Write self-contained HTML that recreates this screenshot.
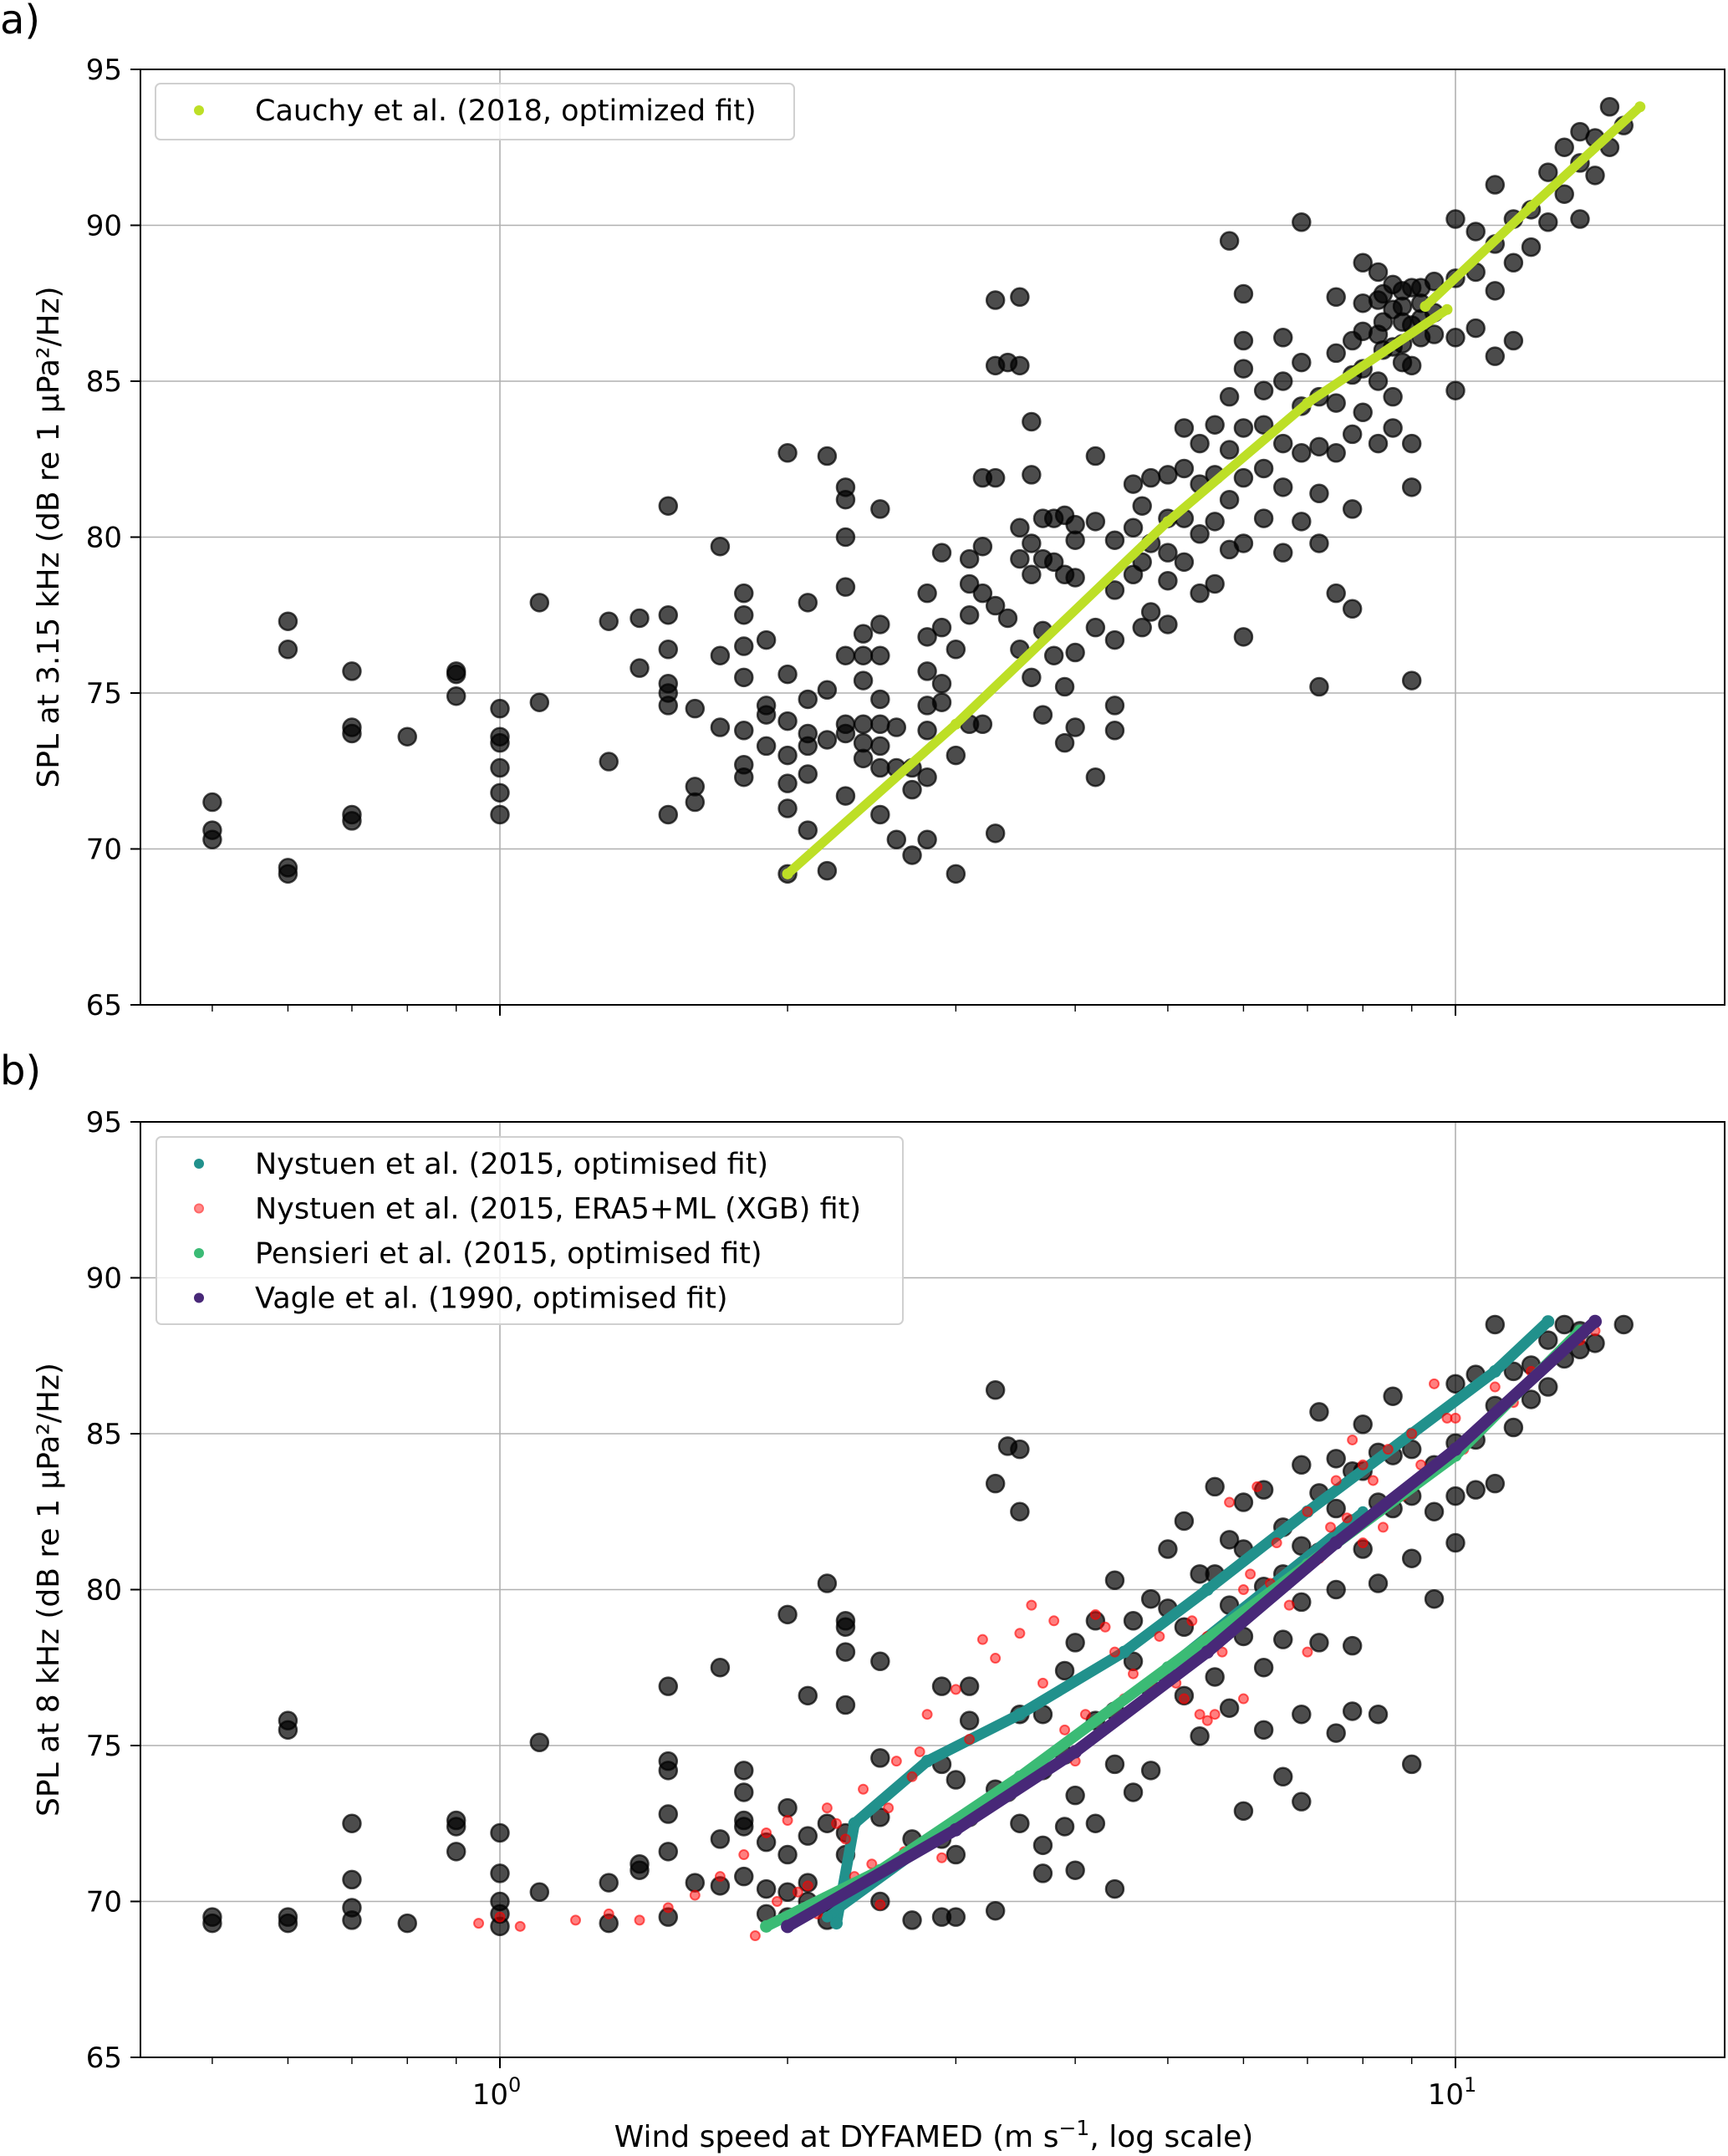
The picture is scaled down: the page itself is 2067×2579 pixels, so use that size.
<!DOCTYPE html>
<html><head><meta charset="utf-8">
<style>
html,body{margin:0;padding:0;background:#fff;}
svg{display:block;font-family:"DejaVu Sans","Liberation Sans",sans-serif;}
</style></head>
<body>
<svg id="fig" width="2067" height="2579" viewBox="0 0 2067 2579" xmlns="http://www.w3.org/2000/svg">
<rect x="0" y="0" width="2067" height="2579" fill="#fff"/>
<text x="0" y="40" font-size="48">a)</text>
<text x="0" y="1297" font-size="48">b)</text>
<g id="pa"></g>
<g id="pb"></g>
<text x="1117" y="2568" font-size="36" text-anchor="middle">Wind speed at DYFAMED (m s<tspan dy="-14" font-size="25">−1</tspan><tspan dy="14">, log scale)</tspan></text>
</svg>
<script>
// ---------- Panel a data ----------
const aWind=[0.5,0.6,0.7,0.8,0.9,1.0,1.1,1.3,1.4,1.5,1.6,1.7,1.8,1.9,2.0,2.1,2.2,2.3,2.4,2.5,2.6,2.7,2.8,2.9,3.0,3.1,3.2,3.3,3.4,3.5,3.6,3.7,3.8,3.9,4.0,4.2,4.4,4.6,4.7,4.8,5.0,5.2,5.4,5.6,5.8,6.0,6.3,6.6,6.9,7.2,7.5,7.8,8.0,8.3,8.4,8.6,8.8,9.0,9.2,9.5,10.0,10.5,11.0,11.5,12.0,12.5,13.0,13.5,14.0,14.5,15.0];
const aSpl=[[71.5,70.6,70.3],[77.3,76.4,69.4,69.2],[75.7,73.9,73.7,71.1,70.9],[73.6],[75.7,75.6,74.9],[74.5,73.6,73.4,72.6,71.8,71.1],[74.7,77.9],[77.3,72.8],[77.4,75.8],[81.0,77.5,76.4,75.3,75.0,74.6,71.1],[72.0,71.5,74.5],[79.7,76.2,73.9],[78.2,77.5,76.5,75.5,73.8,72.7,72.3],[76.7,74.6,74.3,73.3],[82.7,75.6,74.1,73.0,72.1,71.3,69.2],[77.9,74.8,73.7,73.3,72.4,70.6],[82.6,75.1,73.5,69.3],[81.6,81.2,80.0,78.4,76.2,74.0,73.7,71.7],[76.9,76.2,75.4,74.0,73.4,72.9],[80.9,77.2,76.2,74.8,74.0,73.3,72.6,71.1],[73.9,72.6,70.3],[72.6,71.9,69.8],[78.2,76.8,75.7,74.6,73.8,72.3,70.3],[79.5,77.1,75.3,74.7],[76.4,73.0,69.2],[79.3,78.5,77.5,74.0],[81.9,79.7,78.2,74.0],[87.6,85.5,81.9,77.8,70.5],[85.6,77.4],[87.7,85.5,80.3,79.3,76.4],[83.7,82.0,79.8,78.8,75.5],[80.6,79.3,77.0,74.3],[80.6,79.2,76.2],[80.7,78.8,75.2,73.4],[80.4,79.9,78.7,76.3,73.9],[82.6,80.5,77.1,72.3],[79.9,78.3,76.7,74.6,73.8],[81.7,80.3,78.8],[81.0,79.2,77.1],[81.9,79.8,77.6],[82.0,80.6,79.5,78.6,77.2],[83.5,82.2,80.6,79.2],[83.0,81.7,80.1,78.2],[83.6,82.0,80.5,78.5],[89.5,84.5,82.8,81.2,79.6],[87.8,86.3,85.4,83.5,81.9,79.8,76.8],[84.7,83.6,82.2,80.6],[86.4,85.0,83.0,81.6,79.5],[90.1,85.6,84.2,82.7,80.5],[84.5,82.9,81.4,79.8,75.2],[87.7,85.9,84.3,82.7,78.2],[86.3,85.2,83.3,80.9,77.7],[88.8,87.5,86.6,85.4,84.0],[88.5,87.6,86.5,85.0,83.0],[87.8,86.9,86.0],[88.1,87.3,86.1,84.5,83.5],[87.9,87.4,86.9,86.2,85.6],[88.0,86.8,85.5,83.0,81.6,75.4],[88.0,87.5,87.0,86.4],[88.2,87.2,86.5],[90.2,88.3,86.4,84.7],[89.8,88.5,86.7],[91.3,89.4,87.9,85.8],[90.2,88.8,86.3],[90.5,89.3],[91.7,90.1],[92.5,91.0],[93.0,92.0,90.2],[92.8,91.6],[93.8,92.5],[93.2]];
const cauchyLowWind=[2.0,3.0,5.0,7.0,9.8];
const cauchyLowSpl=[69.2,74.0,80.5,84.3,87.3];
const cauchyHighWind=[9.3,12.0,15.6];
const cauchyHighSpl=[87.4,90.6,93.8];

// ---------- Panel b data ----------
const bWind=[0.5,0.6,0.7,0.8,0.9,1.0,1.1,1.3,1.4,1.5,1.6,1.7,1.8,1.9,2.0,2.1,2.2,2.3,2.5,2.7,2.9,3.0,3.1,3.3,3.4,3.5,3.7,3.9,4.0,4.2,4.4,4.6,4.8,5.0,5.2,5.4,5.6,5.8,6.0,6.3,6.6,6.9,7.2,7.5,7.8,8.0,8.3,8.6,9.0,9.5,10.0,10.5,11.0,11.5,12.0,12.5,13.0,13.5,14.0,15.0];
const bSpl=[[69.5,69.3],[75.8,75.5,69.5,69.3],[72.5,70.7,69.8,69.4],[69.3],[72.6,72.4,71.6],[72.2,70.9,70.0,69.6,69.2],[75.1,70.3],[70.6,69.3],[71.2,71.0],[76.9,74.5,74.2,72.8,71.6,69.5],[70.6],[77.5,72.0,70.5],[74.2,73.5,72.6,72.4,70.8],[71.9,70.4,69.6],[79.2,73.0,71.5,70.3,69.5],[76.6,72.1,70.6,70.0],[80.2,72.5,70.0,69.4],[79.0,78.8,78.0,76.3,72.2,71.5],[77.7,74.6,72.7,70.0],[72.0,69.4],[76.9,74.4,72.0,69.5],[73.9,71.5,69.5],[76.9,75.8,72.7],[86.4,83.4,73.6,69.7],[84.6,73.5],[84.5,82.5,76.0,72.5],[76.0,74.2,71.8,70.9],[77.4,74.7,72.4],[78.3,73.4,71.0],[79.0,75.8,72.5],[80.3,76.1,74.4,70.4],[79.0,77.7,73.5],[79.7,76.8,74.2],[81.3,79.4,77.2],[82.2,78.8,76.6],[80.5,78.0,75.3],[83.3,80.5,77.2],[81.6,79.5,76.2],[82.8,81.3,78.5,72.9],[83.2,80.1,77.5,75.5],[82.0,80.5,78.4,74.0],[84.0,81.4,79.6,76.0,73.2],[85.7,83.1,81.2,78.3],[84.2,82.6,80.0,75.4],[83.8,82.1,78.2,76.1],[85.3,83.8,81.3],[84.4,82.8,80.2,76.0],[86.2,84.3,82.6],[84.5,83.0,81.0,74.4],[84.0,82.5,79.7],[86.6,84.7,83.0,81.5],[86.9,84.8,83.2],[88.5,85.9,83.4],[87.0,85.2],[87.2,86.1],[88.0,86.5],[88.5,87.4],[88.3,87.7],[87.9],[88.5]];
const redWind=[0.95,1.0,1.05,1.2,1.3,1.4,1.5,1.6,1.7,1.8,1.85,1.9,2.0,2.1,2.2,2.4,2.5,2.6,2.8,2.9,3.0,3.2,3.3,3.4,3.5,3.8,4.0,4.2,4.5,5.0,5.2,5.5,5.5,5.8,6.0,6.2,6.5,7.0,7.5,7.8,8.0,8.5,9.0,9.5,10.0,11.0,12.0,13.0,14.0,2.3,2.7,3.6,4.4,4.8,6.8,8.8,10.5,1.95,2.05,2.15,2.25,2.35,2.45,2.55,2.65,2.75,3.1,3.7,3.9,4.1,4.3,4.6,4.9,5.1,5.3,5.6,5.7,6.1,6.4,6.7,7.2,7.4,7.7,8.2,8.4,9.2,9.8,10.2,11.5,12.5,13.5,6.0,5.4,7.0,8.0];
const redSpl=[69.3,69.5,69.2,69.4,69.6,69.4,69.8,70.2,70.8,71.5,68.9,72.2,72.6,70.5,73.0,73.6,69.9,74.5,76.0,71.4,76.8,78.4,77.8,73.5,78.6,79.0,74.5,79.2,76.5,77.5,76.5,78.5,75.8,82.8,80.0,83.3,81.5,82.5,83.5,84.8,84.0,84.5,85.0,86.6,85.5,86.5,87.0,87.7,88.3,72.0,74.0,79.5,78.0,77.0,80.5,83.0,85.0,70.0,70.3,69.6,72.5,70.8,71.2,73.0,71.6,74.8,75.2,77.0,75.5,76.0,78.8,77.3,78.5,77.0,79.0,76.0,78.0,80.5,80.2,79.5,81.0,82.0,82.3,83.5,82.0,84.0,85.5,84.5,86.0,87.2,88.0,76.5,76.0,78.0,81.5];
const nysUpWind=[2.25,2.35,2.8,3.5,4.5,5.5,7.0,9.0,11.0,12.5];
const nysUpSpl=[69.3,72.5,74.5,76.0,78.0,80.0,82.5,85.0,87.0,88.6];
const nysLowWind=[2.2,3.0,5.0,8.0];
const nysLowSpl=[69.5,72.5,77.5,82.5];
const penWind=[1.9,2.5,3.5,5.0,7.0,10.0,13.5];
const penSpl=[69.2,71.0,74.0,77.5,80.8,84.3,88.3];
const vagWind=[2.0,3.0,4.0,5.5,7.5,10.0,14.0];
const vagSpl=[69.2,72.3,74.8,78.0,81.5,84.5,88.6];
const yTicks=[65,70,75,80,85,90,95];
const xMinor=[0.5,0.6,0.7,0.8,0.9,2,3,4,5,6,7,8,9];
const xMajor=[1,10];

const NS='http://www.w3.org/2000/svg';
const L=168,R=2063,H=1119;
const X=v=>598+1143*Math.log10(v);
function mk(parent,tag,attrs){const e=document.createElementNS(NS,tag);for(const k in attrs)e.setAttribute(k,attrs[k]);parent.appendChild(e);return e;}

function panel(g,top,ylabel,showXLabels){
  const Y=v=>top+(95-v)/30*H;
  for(const t of yTicks){const l=mk(g,'line',{x1:L,x2:R,y1:Y(t),y2:Y(t),stroke:'#b0b0b0','stroke-width':1.6});
    
    }
  for(const t of xMajor){const l=mk(g,'line',{x1:X(t),x2:X(t),y1:top,y2:top+H,stroke:'#b0b0b0','stroke-width':1.6});
    
    }
  for(const t of yTicks){const l=mk(g,'line',{x1:L-12,x2:L,y1:Y(t),y2:Y(t),stroke:'#000','stroke-width':2});
    
    
    const tx=mk(g,'text',{x:L-22,y:Y(t)+12,'font-size':34,'text-anchor':'end'});tx.textContent=t;
    
    }
  for(const t of xMinor){const l=mk(g,'line',{x1:X(t),x2:X(t),y1:top+H,y2:top+H+8,stroke:'#000','stroke-width':1.4});
    
    }
  for(const t of xMajor){const l=mk(g,'line',{x1:X(t),x2:X(t),y1:top+H,y2:top+H+13,stroke:'#000','stroke-width':2});
    
    
    if(showXLabels){const tx=mk(g,'text',{x:X(t)-4,y:top+H+56,'font-size':34,'text-anchor':'middle'});
      tx.textContent='10';const sp=mk(tx,'tspan',{dy:-15,'font-size':24});sp.textContent=(t===1?'0':'1');
      
      }}
  const yl=mk(g,'text',{x:0,y:0,'font-size':36,'text-anchor':'middle',transform:`translate(70,${top+H/2}) rotate(-90)`});
  yl.textContent=ylabel;
  
  
  return Y;
}
function blackPts(g,Y,winds,spls){
  const gg=mk(g,'g',{fill:'#000','fill-opacity':0.7,stroke:'#000','stroke-opacity':0.7,'stroke-width':2.5});
  
  
  winds.forEach((w,i)=>spls[i].forEach(s=>{const c=mk(gg,'circle',{cx:X(w),cy:Y(s),r:10.5});
    
    }));
}
function fitLine(g,Y,ws,ss,color,w,name){
  const p=mk(g,'polyline',{points:ws.map((v,i)=>X(v)+','+Y(ss[i])).join(' '),fill:'none',stroke:color,'stroke-width':w,'stroke-linecap':'round','stroke-linejoin':'round'});
  
  
  ws.forEach((v,i)=>{const c=mk(g,'circle',{cx:X(v),cy:Y(ss[i]),r:w/2+1,fill:color});
    
    });
}
function frame(g,top){
  const r=mk(g,'rect',{x:L,y:top,width:R-L,height:H,fill:'none',stroke:'#000','stroke-width':2});
  
  
}
function legend(g,x,y,w,h,entries){
  const lg=mk(g,'g',{});
  
  
  mk(lg,'rect',{x:x,y:y,width:w,height:h,rx:6,fill:'#fff','fill-opacity':0.8,stroke:'#d0d0d0','stroke-width':2});
  entries.forEach((e,i)=>{const cy=y+32+i*53.5;
    const c=mk(lg,'circle',{cx:238,cy:cy,r:e.r,fill:e.c,'fill-opacity':e.o||1,stroke:e.s||'none','stroke-width':2});
    
    
    const t=mk(lg,'text',{x:305,y:cy+12,'font-size':35});t.textContent=e.t;
    
    });
}

const ga=document.getElementById('pa');
const Ya=panel(ga,83,'SPL at 3.15 kHz (dB re 1 μPa²/Hz)',false);
blackPts(ga,Ya,aWind,aSpl);
fitLine(ga,Ya,cauchyLowWind,cauchyLowSpl,'#bddf26',11,'cauchy-fit-low');
fitLine(ga,Ya,cauchyHighWind,cauchyHighSpl,'#bddf26',11,'cauchy-fit-high');
frame(ga,83);
legend(ga,186,100,764,67,[{c:'#bddf26',r:6,t:'Cauchy et al. (2018, optimized fit)'}]);

const gb=document.getElementById('pb');
const Yb=panel(gb,1342,'SPL at 8 kHz (dB re 1 μPa²/Hz)',true);
blackPts(gb,Yb,bWind,bSpl);
fitLine(gb,Yb,nysUpWind,nysUpSpl,'#21918c',13,'nystuen-fit-upper');
fitLine(gb,Yb,nysLowWind,nysLowSpl,'#21918c',11,'nystuen-fit-lower');
const rg=mk(gb,'g',{fill:'#ff0000','fill-opacity':0.5,stroke:'#ff0000','stroke-opacity':0.6,'stroke-width':2});


redWind.forEach((w,i)=>{const c=mk(rg,'circle',{cx:X(w),cy:Yb(redSpl[i]),r:5.5});
  
  });
fitLine(gb,Yb,penWind,penSpl,'#3bbb75',13,'pensieri-fit');
fitLine(gb,Yb,vagWind,vagSpl,'#482878',14,'vagle-fit');
frame(gb,1342);
legend(gb,187,1360,893,224,[
 {c:'#21918c',r:6,t:'Nystuen et al. (2015, optimised fit)'},
 {c:'#ff0000',r:5,o:0.45,s:'#ff6666',t:'Nystuen et al. (2015, ERA5+ML (XGB) fit)'},
 {c:'#3bbb75',r:6,t:'Pensieri et al. (2015, optimised fit)'},
 {c:'#482878',r:6,t:'Vagle et al. (1990, optimised fit)'}]);
</script>
</body></html>
